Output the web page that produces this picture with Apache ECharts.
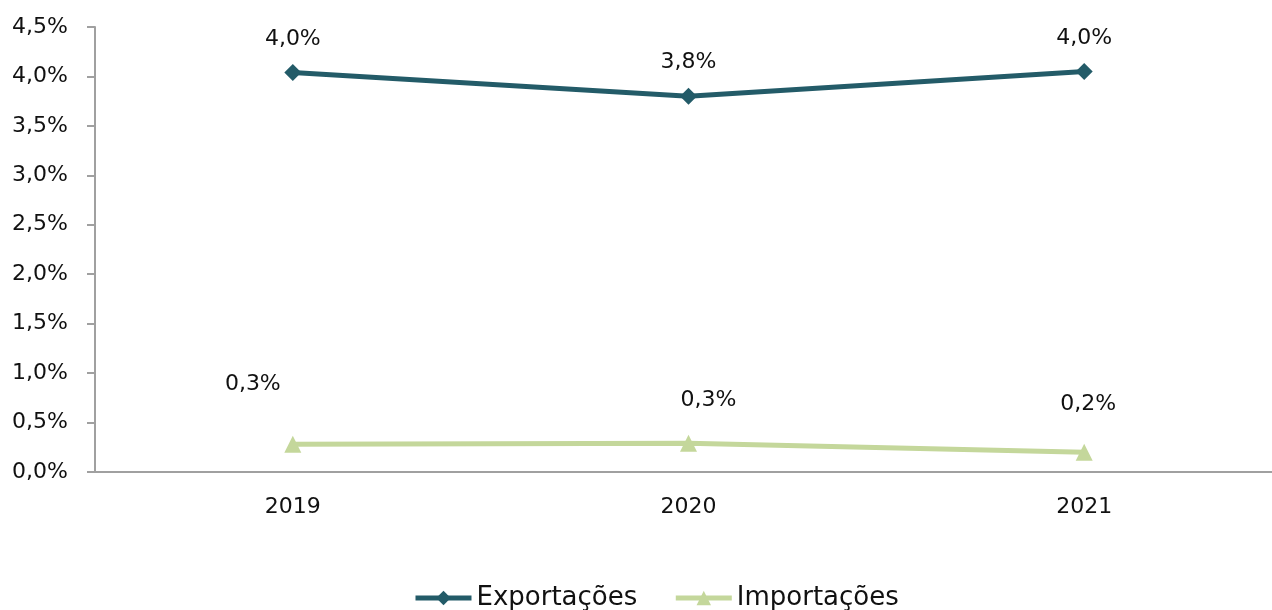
<!DOCTYPE html>
<html>
<head>
<meta charset="utf-8">
<script src="https://cdn.jsdelivr.net/npm/echarts@6/dist/echarts.min.js"></script>
<style>
html,body{margin:0;padding:0;background:#fff;}
#c{width:1272px;height:610px;}
</style>
</head>
<body>
<div id="c"></div>
<script>
const categories = ['2019', '2020', '2021'];
const exportacoes = [4.04, 3.80, 4.05];
const importacoes = [0.28, 0.29, 0.20];
const yTicks = [0, 0.5, 1, 1.5, 2, 2.5, 3, 3.5, 4, 4.5];

const FONT = '"DejaVu Sans", sans-serif';
const fmt = v => v.toFixed(1).replace('.', ',') + '%';

const impOffsets = [[-40, -60], [20, -43], [4, -48]];

const chart = echarts.init(document.getElementById('c'));
chart.setOption({
  animation: false,
  textStyle: { fontFamily: FONT },
  grid: { left: 95, top: 27, width: 1187, bottom: 138, containLabel: false, outerBoundsMode: 'none' },
  legend: {
    top: 585,
    left: 413,
    padding: 0,
    itemWidth: 56,
    itemHeight: 18,
    itemGap: 36,
    lineStyle: { width: 5 },
    textStyle: { fontSize: 26, color: '#111', fontFamily: FONT },
    data: ['Exportações', 'Importações']
  },
  xAxis: {
    type: 'category',
    data: categories,
    boundaryGap: true,
    axisLine: { lineStyle: { color: '#a0a0a0', width: 2 } },
    axisTick: { show: false },
    axisLabel: { fontSize: 22, color: '#111', margin: 24, fontFamily: FONT }
  },
  yAxis: {
    type: 'value',
    min: 0,
    max: 4.5,
    interval: 0.5,
    axisLine: { show: true, lineStyle: { color: '#a0a0a0', width: 2 } },
    axisTick: { show: true, length: 8, lineStyle: { color: '#a0a0a0', width: 2 } },
    splitLine: { show: false },
    axisLabel: { fontSize: 22, color: '#111', margin: 27, fontFamily: FONT,
      formatter: v => fmt(v) }
  },
  series: [
    {
      name: 'Exportações',
      type: 'line',
      data: exportacoes,
      symbol: 'diamond',
      symbolSize: 17,
      lineStyle: { color: '#235B68', width: 5 },
      itemStyle: { color: '#235B68' },
      label: {
        show: true, position: 'top', distance: 14,
        fontSize: 22, color: '#111', fontFamily: FONT,
        formatter: p => fmt(p.value)
      }
    },
    {
      name: 'Importações',
      type: 'line',
      data: importacoes.map((v, i) => ({
        value: v,
        label: { offset: impOffsets[i] }
      })),
      symbol: 'triangle',
      symbolSize: 17,
      lineStyle: { color: '#C4D79B', width: 5 },
      itemStyle: { color: '#C4D79B' },
      label: {
        show: true, position: 'inside',
        fontSize: 22, color: '#111', fontFamily: FONT,
        formatter: p => fmt(p.value)
      }
    }
  ]
});
</script>
</body>
</html>
